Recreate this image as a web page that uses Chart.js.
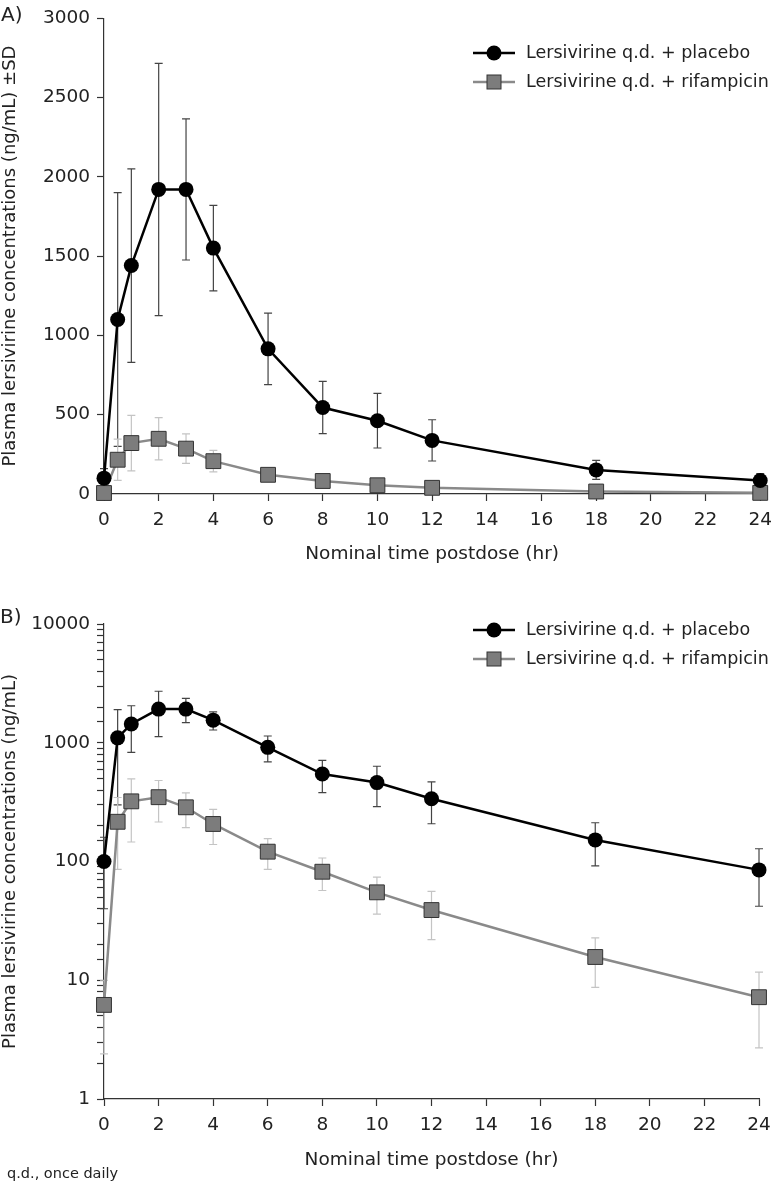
<!DOCTYPE html>
<html>
<head>
<meta charset="utf-8">
<script src="https://cdn.jsdelivr.net/npm/chart.js@4.4.1/dist/chart.umd.min.js"></script>
<style>
  html, body { margin: 0; padding: 0; background: #fff; }
  #wrap { position: relative; width: 780px; height: 1183px; font-family: "DejaVu Sans", sans-serif; color: #222; }
  .box { position: absolute; left: 0; width: 780px; }
  .tag { position: absolute; font-size: 20px; line-height: 1; }
  #note { position: absolute; left: 7px; top: 1166px; font-size: 14.5px; line-height: 1; }
</style>
</head>
<body>
<div id="wrap">
  <div class="box" style="top:560px;height:623px"><canvas id="chartB"></canvas></div>
  <div class="box" style="top:0;height:575px"><canvas id="chartA"></canvas></div>
  <div class="tag" style="left:1px;top:4px">A)</div>
  <div class="tag" style="left:0px;top:606px">B)</div>
  <div id="note">q.d., once daily</div>
</div>
<script>
// --- Daten ---
const times = [0, 0.5, 1, 2, 3, 4, 6, 8, 10, 12, 18, 24];
const placeboMean = [100, 1100, 1440, 1920, 1920, 1550, 915, 545, 462, 338, 152, 85];
const placeboSD   = [60, 800, 610, 795, 445, 270, 225, 165, 172, 130, 60, 43];
const rifampMean  = [6.2, 216, 321, 348, 286, 207, 121, 82, 55, 39, 15.7, 7.2];
const rifampSD    = [3.8, 130, 175, 133, 93, 68, 35, 25, 19, 17, 7, 4.5];
const logTickLabels = [1, 10, 100, 1000, 10000];
const xTitle = 'Nominal time postdose (hr)';
const labelPlacebo = 'Lersivirine q.d. + placebo';
const labelRifamp  = 'Lersivirine q.d. + rifampicin';

const FONT = '"DejaVu Sans", sans-serif';
const FS = 18.5;
Chart.defaults.font.family = FONT;
Chart.defaults.color = '#222';

// Fehlerbalken (±SD) über die Skalen der Bibliothek zeichnen
const errorBars = {
    id: 'errorBars',
    beforeDatasetsDraw(chart) {
        const ctx = chart.ctx;
        const yScale = chart.scales.y;
        chart.data.datasets.forEach((ds, di) => {
            const meta = chart.getDatasetMeta(di);
            ctx.save();
            ctx.strokeStyle = ds.errColor;
            ctx.lineWidth = 1.2;
            meta.data.forEach((pt, i) => {
                const m = ds.means[i], sd = ds.sd[i];
                const lo = Math.max(m - sd, yScale.min);
                const yTop = yScale.getPixelForValue(m + sd);
                const yBot = yScale.getPixelForValue(lo);
                ctx.beginPath();
                ctx.moveTo(pt.x, yTop); ctx.lineTo(pt.x, yBot);
                ctx.moveTo(pt.x - 4, yTop); ctx.lineTo(pt.x + 4, yTop);
                if (m - sd > yScale.min) { ctx.moveTo(pt.x - 4, yBot); ctx.lineTo(pt.x + 4, yBot); }
                ctx.stroke();
            });
            ctx.restore();
        });
    }
};

// Legende mit Linie + Marker
const lineLegend = {
    id: 'lineLegend',
    afterDraw(chart, args, opts) {
        const ctx = chart.ctx;
        ctx.save();
        ctx.font = '17.5px ' + FONT;
        ctx.textBaseline = 'middle';
        chart.data.datasets.forEach((ds, i) => {
            const y = opts.y + i * 29;
            ctx.strokeStyle = ds.borderColor;
            ctx.lineWidth = 2.5;
            ctx.beginPath(); ctx.moveTo(opts.x, y); ctx.lineTo(opts.x + 42, y); ctx.stroke();
            ctx.fillStyle = ds.pointBackgroundColor;
            ctx.strokeStyle = ds.pointBorderColor;
            ctx.lineWidth = 1;
            if (ds.pointStyle === 'rect') {
                ctx.fillRect(opts.x + 14, y - 7, 14, 14);
                ctx.strokeRect(opts.x + 14, y - 7, 14, 14);
            } else {
                ctx.beginPath(); ctx.arc(opts.x + 21, y, 7.5, 0, Math.PI * 2); ctx.fill();
            }
            ctx.fillStyle = '#222';
            ctx.fillText(ds.label, opts.x + 53, y);
        });
        ctx.restore();
    }
};

function makeDatasets() {
    return [
        {
            label: labelPlacebo,
            data: times.map((t, i) => ({ x: t, y: placeboMean[i] })),
            means: placeboMean, sd: placeboSD, errColor: '#444',
            borderColor: '#000', borderWidth: 2.5,
            pointStyle: 'circle', pointRadius: 7.5, pointBackgroundColor: '#000',
            pointBorderColor: '#000', pointBorderWidth: 0,
            tension: 0, clip: false
        },
        {
            label: labelRifamp,
            data: times.map((t, i) => ({ x: t, y: rifampMean[i] })),
            means: rifampMean, sd: rifampSD, errColor: '#c4c4c4',
            borderColor: '#8a8a8a', borderWidth: 2.5,
            pointStyle: 'rect', pointRadius: 10.5, pointBackgroundColor: '#7c7c7c',
            pointBorderColor: '#333', pointBorderWidth: 1,
            tension: 0, clip: false
        }
    ];
}

function axisGrid() {
    return { drawOnChartArea: false, drawTicks: true, tickLength: 7, color: '#333', tickColor: '#333', tickWidth: 1.2 };
}

function renderChart(id, cfg) {
    new Chart(document.getElementById(id), {
        type: 'line',
        data: { datasets: makeDatasets() },
        options: {
            responsive: true,
            maintainAspectRatio: false,
            animation: false,
            layout: { padding: cfg.padding },
            plugins: {
                legend: { display: false },
                tooltip: { enabled: false },
                lineLegend: { x: 473, y: cfg.legendY }
            },
            scales: {
                x: {
                    type: 'linear', min: 0, max: 24,
                    ticks: { stepSize: 2, font: { size: FS }, color: '#222', padding: 8 },
                    grid: axisGrid(),
                    border: { display: true, color: '#333', width: 1.2 },
                    title: { display: true, text: xTitle, font: { size: FS }, color: '#222', padding: { top: 0, bottom: cfg.xTitlePad } },
                    afterFit: s => { s.height = cfg.xHeight; }
                },
                y: Object.assign({
                    ticks: { font: { size: FS }, color: '#222', padding: 7 },
                    grid: axisGrid(),
                    border: { display: true, color: '#333', width: 1.2 },
                    title: { display: true, text: cfg.yTitle, font: { size: 18 }, color: '#222', padding: { top: 0, bottom: 0 } },
                    afterFit: s => { s.width = 104; }
                }, cfg.y)
            }
        },
        plugins: [errorBars, lineLegend]
    });
}

// Teil A: linear
renderChart('chartA', {
    padding: { left: 0, right: 12, top: 18, bottom: 0 },
    legendY: 53, xHeight: 81, xTitlePad: 10,
    yTitle: 'Plasma lersivirine concentrations (ng/mL) ±SD',
    y: {
        type: 'linear', min: 0, max: 3000,
        ticks: { stepSize: 500, font: { size: FS }, color: '#222', padding: 7, callback: v => String(v) }
    }
});

// Teil B: logarithmisch
renderChart('chartB', {
    padding: { left: 0, right: 21, top: 64, bottom: 0 },
    legendY: 70, xHeight: 84, xTitlePad: 12,
    yTitle: 'Plasma lersivirine concentrations (ng/mL)',
    y: {
        type: 'logarithmic', min: 1, max: 10000,
        ticks: {
            autoSkip: false, font: { size: FS }, color: '#222', padding: 7,
            callback: v => (logTickLabels.includes(v) ? String(v) : '')
        }
    }
});
</script>
</body>
</html>
